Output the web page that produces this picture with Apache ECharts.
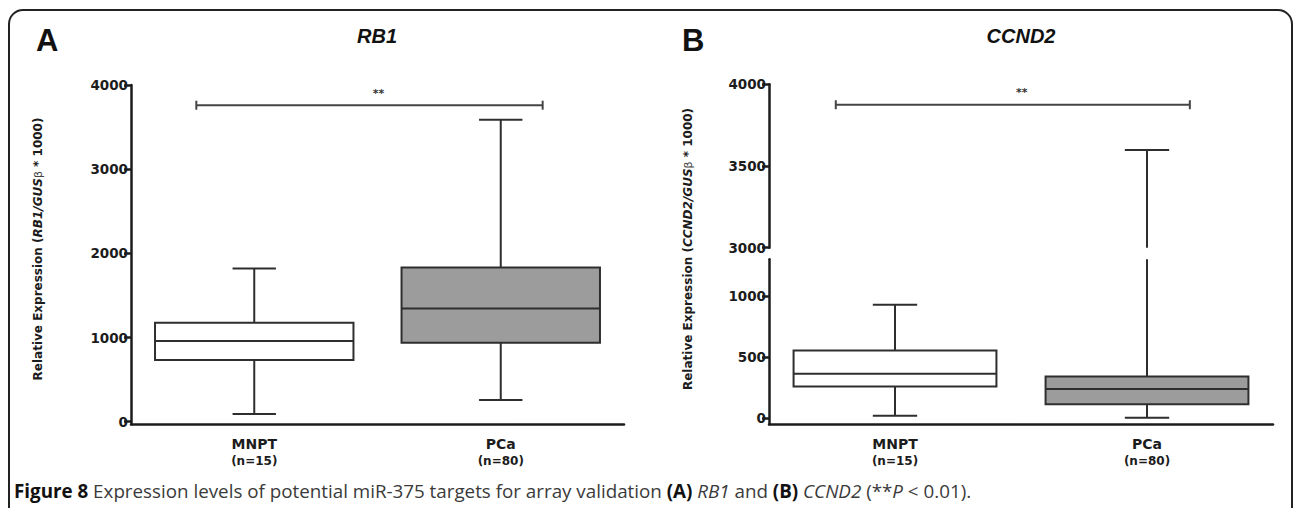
<!DOCTYPE html>
<html>
<head>
<meta charset="utf-8">
<script src="https://cdn.jsdelivr.net/npm/echarts@6/dist/echarts.min.js"></script>
<style>
html, body { margin: 0; padding: 0; background: #ffffff; }
#chart { width: 1295px; height: 508px; }
</style>
</head>
<body>
<div id="chart"></div>
<script>
// ---------------- data ----------------
const categories = ['MNPT', 'PCa'];
const sampleSizes = ['(n=15)', '(n=80)'];

// RB1 box-and-whisker statistics (min, Q1, median, Q3, max)
const rb1Min = [90, 257];
const rb1Q1 = [732, 937];
const rb1Median = [960, 1345];
const rb1Q3 = [1174, 1831];
const rb1Max = [1820, 3588];

// CCND2 box-and-whisker statistics
const ccnd2Min = [19, 3];
const ccnd2Q1 = [259, 115];
const ccnd2Median = [363, 238];
const ccnd2Q3 = [554, 341];
const ccnd2Max = [929, 3598];

// tick labels
const rb1Ticks = [0, 1000, 2000, 3000, 4000];
const ccnd2UpperTicks = [3000, 3500, 4000];
const ccnd2LowerTicks = [0, 500, 1000];

// significance brackets (from category, to category, level)
const sigLabel = '**';
const rb1Sig = [0, 1, 3760];
const ccnd2Sig = [0, 1, 3875];

// ---------------- styles ----------------
const INK = '#1c1c1c';
const LINE = '#2e2e2e';
const FILLS = ['#ffffff', '#9c9c9c'];
const BOX_WIDTH = 0.805;
const CAP_WIDTH = 0.176;
const SIG_LEFT = 0.235;
const SIG_RIGHT = 0.17;
const TICK_FONT = 'DejaVu Sans';

function makeRows(mins, q1s, meds, q3s, maxs) {
  return categories.map((c, i) => [i, mins[i], q1s[i], meds[i], q3s[i], maxs[i]]);
}

function boxRender(params, api) {
  const i = api.value(0);
  const band = api.size([1, 0])[0];
  const hw = band * BOX_WIDTH / 2;
  const cw = band * CAP_WIDTH / 2;
  const pMin = api.coord([i, api.value(1)]);
  const x = pMin[0];
  const yMin = pMin[1];
  const yQ1 = api.coord([i, api.value(2)])[1];
  const yMed = api.coord([i, api.value(3)])[1];
  const yQ3 = api.coord([i, api.value(4)])[1];
  const yMax = api.coord([i, api.value(5)])[1];
  const ls = { stroke: LINE, lineWidth: 2 };
  return {
    type: 'group',
    children: [
      { type: 'line', shape: { x1: x, y1: yMax, x2: x, y2: yQ3 }, style: ls },
      { type: 'line', shape: { x1: x, y1: yQ1, x2: x, y2: yMin }, style: ls },
      { type: 'line', shape: { x1: x - cw, y1: yMax, x2: x + cw, y2: yMax }, style: ls },
      { type: 'line', shape: { x1: x - cw, y1: yMin, x2: x + cw, y2: yMin }, style: ls },
      { type: 'rect', shape: { x: x - hw, y: yQ3, width: 2 * hw, height: yQ1 - yQ3 },
        style: { fill: FILLS[i], stroke: LINE, lineWidth: 2 } },
      { type: 'line', shape: { x1: x - hw, y1: yMed, x2: x + hw, y2: yMed }, style: ls }
    ]
  };
}

function sigRender(params, api) {
  const band = api.size([1, 0])[0];
  const p0 = api.coord([api.value(0), api.value(2)]);
  const p1 = api.coord([api.value(1), api.value(2)]);
  const l = p0[0] - band * SIG_LEFT;
  const r = p1[0] + band * SIG_RIGHT;
  const y = p0[1];
  const ls = { stroke: '#444', lineWidth: 2 };
  return {
    type: 'group',
    children: [
      { type: 'line', shape: { x1: l, y1: y, x2: r, y2: y }, style: ls },
      { type: 'line', shape: { x1: l, y1: y - 4.5, x2: l, y2: y + 4.5 }, style: ls },
      { type: 'line', shape: { x1: r, y1: y - 4.5, x2: r, y2: y + 4.5 }, style: ls },
      { type: 'text', style: { text: sigLabel, x: (l + r) / 2 + 9, y: y - 12,
        align: 'center', verticalAlign: 'middle', font: 'bold 11px "DejaVu Sans"', fill: '#333' } }
    ]
  };
}

const axisLineStyle = { color: INK, width: 2.5 };

function xAxisCfg(gridIndex, show) {
  return {
    type: 'category', gridIndex: gridIndex, data: categories, show: show,
    boundaryGap: true,
    axisLine: { onZero: false, lineStyle: axisLineStyle },
    axisTick: { alignWithLabel: true, interval: 0, length: 6, lineStyle: { color: INK, width: 2.5 } },
    axisLabel: {
      interval: 0, margin: 11,
      formatter: (v, i) => '{a|' + v + '}\n{b|' + sampleSizes[i] + '}',
      rich: {
        a: { fontFamily: TICK_FONT, fontWeight: 'bold', fontSize: 14, color: INK, lineHeight: 17 },
        b: { fontFamily: TICK_FONT, fontWeight: 'bold', fontSize: 12, color: INK, lineHeight: 17 }
      }
    },
    splitLine: { show: false }
  };
}

function yAxisCfg(gridIndex, min, max, ticks) {
  return {
    type: 'value', gridIndex: gridIndex, min: min, max: max,
    axisLine: { show: true, lineStyle: axisLineStyle },
    axisTick: { show: true, length: 7, customValues: ticks, lineStyle: { color: INK, width: 2.5 } },
    axisLabel: { customValues: ticks, margin: 3, fontFamily: TICK_FONT, fontWeight: 'bold',
      fontSize: 13.5, color: INK, formatter: v => String(v) },
    splitLine: { show: false }
  };
}

const yNameRich = {
  n: { fontFamily: 'DejaVu Sans', fontWeight: 'bold', fontSize: 12, fill: INK },
  i: { fontFamily: 'DejaVu Sans', fontWeight: 'bold', fontStyle: 'italic', fontSize: 12, fill: INK },
  g: { fontFamily: 'DejaVu Sans', fontWeight: 'normal', fontSize: 11, fill: '#444' }
};

const chart = echarts.init(document.getElementById('chart'), null, { renderer: 'svg' });

chart.setOption({
  backgroundColor: '#ffffff',
  animation: false,
  grid: [
    { left: 131, top: 85, width: 493, height: 339.3 },
    { left: 769, top: 84.3, width: 504, height: 163.4 },
    { left: 769, top: 259.3, width: 504, height: 165 }
  ],
  xAxis: [xAxisCfg(0, true), xAxisCfg(1, false), xAxisCfg(2, true)],
  yAxis: [
    yAxisCfg(0, -31, 4000, rb1Ticks),
    yAxisCfg(1, 3000, 4000, ccnd2UpperTicks),
    yAxisCfg(2, -50, 1300, ccnd2LowerTicks)
  ],
  series: [
    { type: 'custom', name: 'RB1', xAxisIndex: 0, yAxisIndex: 0, clip: true,
      renderItem: boxRender, encode: { x: 0, y: [1, 2, 3, 4, 5] },
      data: makeRows(rb1Min, rb1Q1, rb1Median, rb1Q3, rb1Max) },
    { type: 'custom', name: 'CCND2 upper', xAxisIndex: 1, yAxisIndex: 1, clip: true,
      renderItem: boxRender, encode: { x: 0, y: [1, 2, 3, 4, 5] },
      data: makeRows(ccnd2Min, ccnd2Q1, ccnd2Median, ccnd2Q3, ccnd2Max) },
    { type: 'custom', name: 'CCND2 lower', xAxisIndex: 2, yAxisIndex: 2, clip: true,
      renderItem: boxRender, encode: { x: 0, y: [1, 2, 3, 4, 5] },
      data: makeRows(ccnd2Min, ccnd2Q1, ccnd2Median, ccnd2Q3, ccnd2Max) },
    { type: 'custom', name: 'RB1 sig', xAxisIndex: 0, yAxisIndex: 0, clip: false,
      renderItem: sigRender, encode: { x: [0, 1], y: 2 }, data: [rb1Sig] },
    { type: 'custom', name: 'CCND2 sig', xAxisIndex: 1, yAxisIndex: 1, clip: false,
      renderItem: sigRender, encode: { x: [0, 1], y: 2 }, data: [ccnd2Sig] }
  ],
  graphic: [
    { type: 'rect', silent: true, z: -10,
      shape: { x: 9, y: 10, width: 1283, height: 540, r: 14 },
      style: { fill: 'none', stroke: '#222', lineWidth: 2 } },
    { type: 'text', x: 36, y: 40, style: { text: 'A', font: 'bold 31px "Liberation Sans"',
      fill: '#111', align: 'left', verticalAlign: 'middle' } },
    { type: 'text', x: 682, y: 40, style: { text: 'B', font: 'bold 31px "Liberation Sans"',
      fill: '#111', align: 'left', verticalAlign: 'middle' } },
    { type: 'text', x: 377, y: 36, style: { text: 'RB1', font: 'italic bold 20px "Liberation Sans"',
      fill: '#111', align: 'center', verticalAlign: 'middle' } },
    { type: 'text', x: 1021, y: 36, style: { text: 'CCND2', font: 'italic bold 20px "Liberation Sans"',
      fill: '#111', align: 'center', verticalAlign: 'middle' } },
    { type: 'text', x: 38, y: 249, rotation: Math.PI / 2,
      style: { text: '{n|Relative Expression (}{i|RB1/GUS}{g|β}{n| * 1000)}', rich: yNameRich,
        align: 'center', verticalAlign: 'middle' } },
    { type: 'text', x: 688, y: 249, rotation: Math.PI / 2,
      style: { text: '{n|Relative Expression (}{i|CCND2/GUS}{g|β}{n| * 1000)}', rich: yNameRich,
        align: 'center', verticalAlign: 'middle' } },
    { type: 'text', x: 14, y: 491,
      style: {
        text: '{fb|Figure 8} Expression levels of potential miR-375 targets for array validation {b|(A)} {i|RB1} and {b|(B)} {i|CCND2} (**{i|P} < 0.01).',
        fontFamily: 'Open Sans', fontSize: 18.8, fill: '#3a3a3a',
        align: 'left', verticalAlign: 'middle',
        rich: {
          fb: { fontFamily: 'Open Sans', fontWeight: 'bold', fontSize: 18.8, fill: '#111' },
          b: { fontFamily: 'Open Sans', fontWeight: 'bold', fontSize: 18.8, fill: '#111' },
          i: { fontFamily: 'Open Sans', fontStyle: 'italic', fontSize: 18.8, fill: '#3a3a3a' }
        }
      } }
  ]
});
</script>
</body>
</html>
